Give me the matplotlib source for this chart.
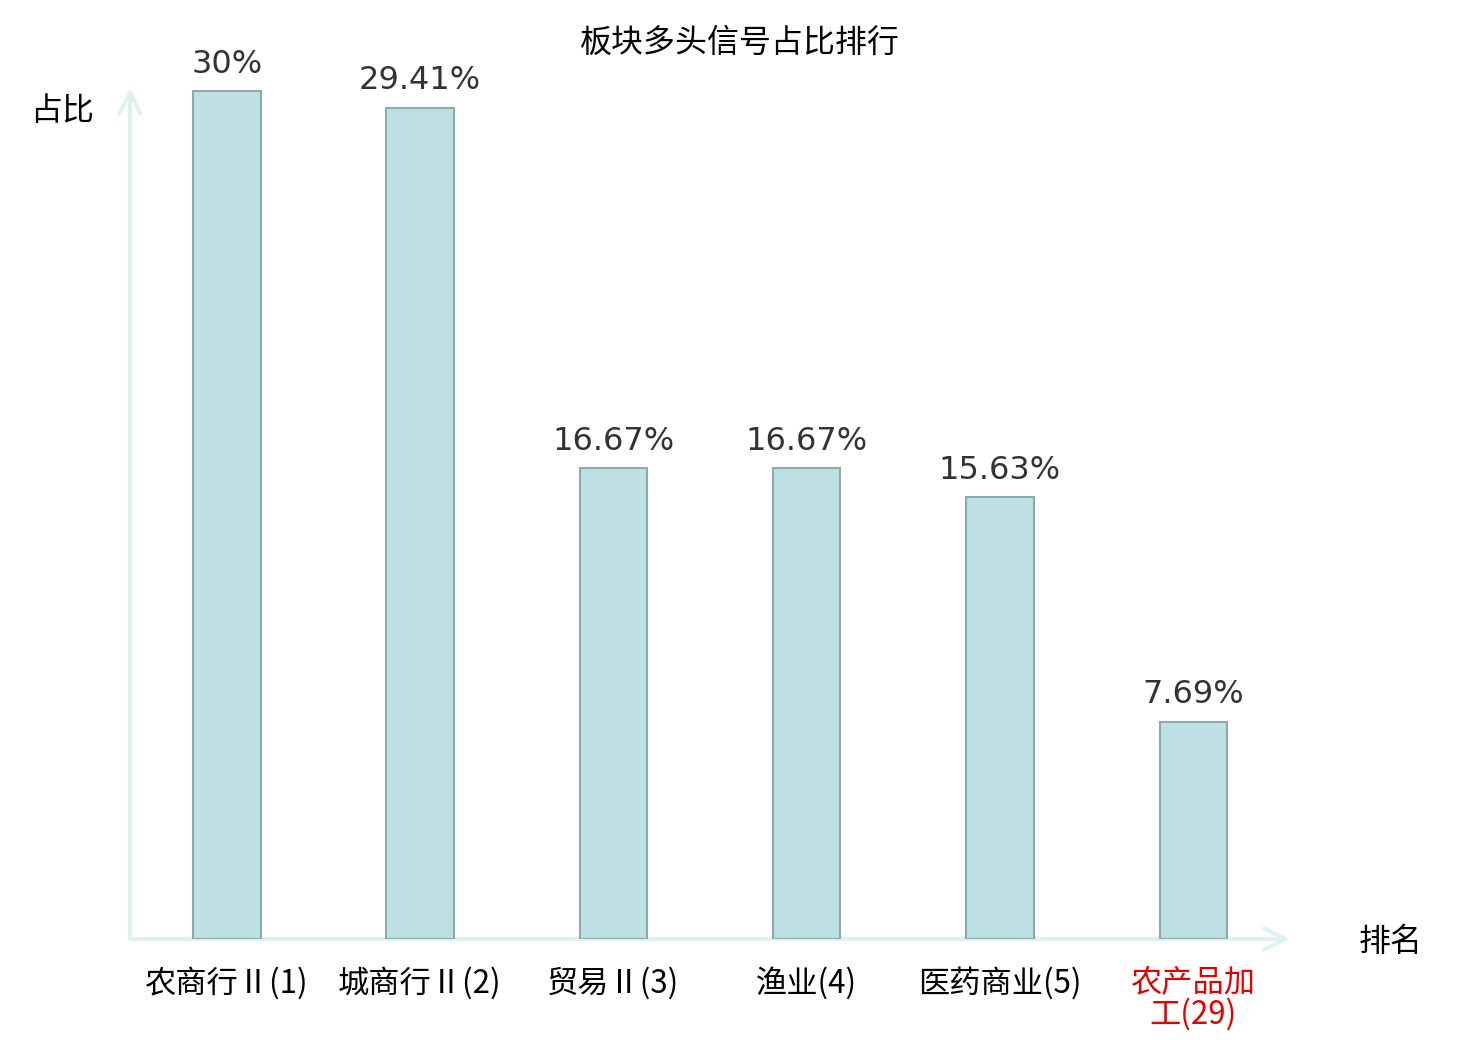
import matplotlib
matplotlib.use("Agg")
import matplotlib.pyplot as plt

plt.rcParams['font.family'] = ['Noto Sans CJK SC', 'DejaVu Sans']

categories = ["农商行Ⅱ(1)", "城商行Ⅱ(2)", "贸易Ⅱ(3)", "渔业(4)", "医药商业(5)", "农产品加\n工(29)"]
values = [30.0, 29.41, 16.67, 16.67, 15.63, 7.69]
value_labels = ["30%", "29.41%", "16.67%", "16.67%", "15.63%", "7.69%"]
label_colors = ["black", "black", "black", "black", "black", "#e60000"]

fig = plt.figure(figsize=(14.8, 10.4), dpi=100)
ax = fig.add_axes([130/1480, 101/1040, 1160/1480, 851/1040])

x = list(range(len(categories)))
ax.bar(x, values, width=0.35, color="#bce0e3", edgecolor="#8ea9aa", linewidth=1.5, zorder=3)

for xi, v, lab in zip(x, values, value_labels):
    ax.annotate(lab, (xi, v), xytext=(0, 8), textcoords="offset points",
                ha="center", va="bottom", fontsize=23, color="#333333",
                family="DejaVu Sans")

ax.set_xlim(-0.5, 5.5)
ax.set_ylim(0, 30.1)
for s in ax.spines.values():
    s.set_visible(False)
ax.set_yticks([])
ax.set_xticks(x)
ax.set_xticklabels(categories, fontsize=22.5, linespacing=0.95)
for t, c in zip(ax.get_xticklabels(), label_colors):
    t.set_color(c)
ax.tick_params(axis="x", length=0, pad=20)

axis_color = "#dff2f0"
ax.annotate("", xy=(1, 0), xytext=(0, 0), xycoords="axes fraction",
            arrowprops=dict(arrowstyle="->", color=axis_color, lw=3,
                            mutation_scale=38, shrinkA=0, shrinkB=0), zorder=1)
ax.annotate("", xy=(0, 1), xytext=(0, 0), xycoords="axes fraction",
            arrowprops=dict(arrowstyle="->", color=axis_color, lw=3,
                            mutation_scale=38, shrinkA=0, shrinkB=0), zorder=1)

fig.text(740/1480, 1 - 43/1040, "板块多头信号占比排行", ha="center", va="center", fontsize=23)
fig.text(62/1480, 1 - 111/1040, "占比", ha="center", va="center", fontsize=23)
fig.text(1391/1480, 1 - 942/1040, "排名", ha="center", va="center", fontsize=23)

fig.savefig("out.png", dpi=100, facecolor="white")
